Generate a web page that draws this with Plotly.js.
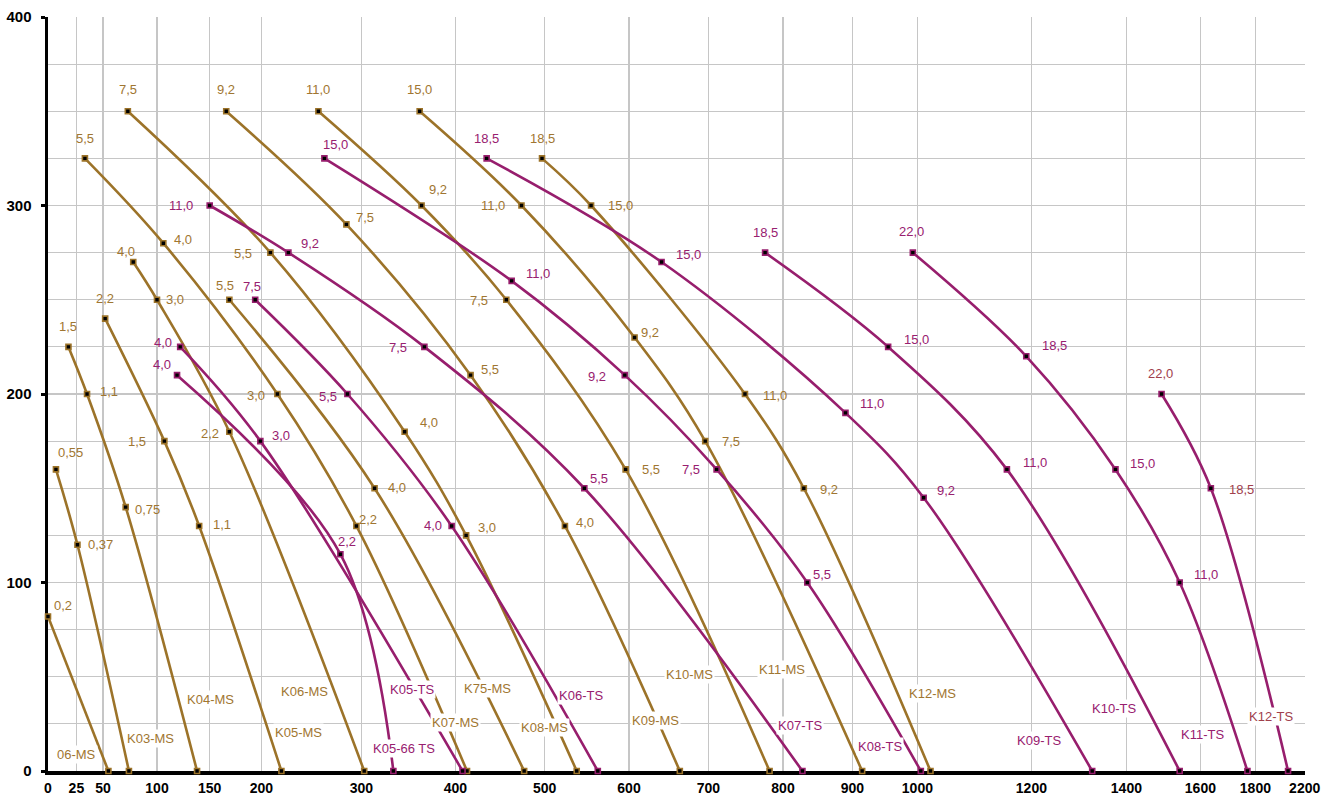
<!DOCTYPE html>
<html>
<head>
<meta charset="utf-8">
<script src="https://cdn.plot.ly/plotly-3.0.1.min.js"></script>
<style>
  html, body { margin: 0; padding: 0; background: #ffffff; }
  #chart { width: 1330px; height: 800px; }
</style>
</head>
<body>
<div id="chart"></div>
<script>
// ---- Flow axis (non-linear): tick values and their spacing along the axis ----
const TICK_Q   = [0, 25, 50, 100, 150, 200, 300, 400, 500, 600, 700, 800, 900, 1000, 1200, 1400, 1600, 1800, 2200];
const TICK_POS = [0, 28.4, 55, 109, 161.7, 213.4, 313.4, 407.4, 496.7, 581, 660.4, 735, 804.4, 869.4, 983.4, 1078.4, 1152.4, 1207.4, 1256.7];

// ---- Pump curves: flow Q, head H and motor power at each point (kW) ----
// MS series
const MS06_Q = [0, 55];                     const MS06_H = [82, 0];                     const MS06_KW = ['0,2', ''];
const K03MS_Q = [7, 26, 74];                const K03MS_H = [160, 120, 0];              const K03MS_KW = ['0,55', '0,37', ''];
const K04MS_Q = [18, 35, 71, 138];          const K04MS_H = [225, 200, 140, 0];         const K04MS_KW = ['1,5', '1,1', '0,75', ''];
const K05MS_Q = [52, 107, 140, 220];        const K05MS_H = [240, 175, 130, 0];         const K05MS_KW = ['2,2', '1,5', '1,1', ''];
const K06MS_Q = [78, 100, 169, 303];        const K06MS_H = [270, 250, 180, 0];         const K06MS_KW = ['4,0', '3,0', '2,2', ''];
const K07MS_Q = [33, 106, 216, 295, 413];   const K07MS_H = [325, 280, 200, 130, 0];    const K07MS_KW = ['5,5', '4,0', '3,0', '2,2', ''];
const K75MS_Q = [169, 314, 477];            const K75MS_H = [250, 150, 0];              const K75MS_KW = ['5,5', '4,0', ''];
const K08MS_Q = [73, 209, 346, 412, 538];   const K08MS_H = [350, 275, 180, 125, 0];    const K08MS_KW = ['7,5', '5,5', '4,0', '3,0', ''];
const K09MS_Q = [166, 285, 417, 524, 664];  const K09MS_H = [350, 290, 210, 130, 0];    const K09MS_KW = ['9,2', '7,5', '5,5', '4,0', ''];
const K10MS_Q = [257, 364, 457, 596, 782];  const K10MS_H = [350, 300, 250, 160, 0];    const K10MS_KW = ['11,0', '9,2', '7,5', '5,5', ''];
const K11MS_Q = [362, 474, 607, 696, 915];  const K11MS_H = [350, 300, 230, 175, 0];    const K11MS_KW = ['15,0', '11,0', '9,2', '7,5', ''];
const K12MS_Q = [497, 555, 749, 830, 1023]; const K12MS_H = [325, 300, 200, 150, 0];    const K12MS_KW = ['18,5', '15,0', '11,0', '9,2', ''];
// TS series
const K0566TS_Q = [119, 279, 334];               const K0566TS_H = [210, 115, 0];              const K0566TS_KW = ['4,0', '2,2', ''];
const K05TS_Q = [122, 199, 408];                 const K05TS_H = [225, 175, 0];                const K05TS_KW = ['4,0', '3,0', ''];
const K06TS_Q = [194, 286, 396, 563];            const K06TS_H = [250, 200, 130, 0];           const K06TS_KW = ['7,5', '5,5', '4,0', ''];
const K07TS_Q = [150, 227, 367, 547, 828];       const K07TS_H = [300, 275, 225, 150, 0];      const K07TS_KW = ['11,0', '9,2', '7,5', '5,5', ''];
const K08TS_Q = [263, 463, 595, 711, 835, 1006]; const K08TS_H = [325, 260, 210, 160, 100, 0]; const K08TS_KW = ['15,0', '11,0', '9,2', '7,5', '5,5', ''];
const K09TS_Q = [435, 641, 890, 1011, 1328];     const K09TS_H = [325, 270, 190, 145, 0];      const K09TS_KW = ['18,5', '15,0', '11,0', '9,2', ''];
const K10TS_Q = [776, 955, 1157, 1544];          const K10TS_H = [275, 225, 160, 0];           const K10TS_KW = ['18,5', '15,0', '11,0', ''];
const K11TS_Q = [993, 1191, 1377, 1544, 1771];   const K11TS_H = [275, 220, 160, 100, 0];      const K11TS_KW = ['22,0', '18,5', '15,0', '11,0', ''];
const K12TS_Q = [1495, 1638, 2065];              const K12TS_H = [200, 150, 0];                const K12TS_KW = ['22,0', '18,5', ''];

// ---- Styling ----
const GOLD = '#9c7329';
const GOLD_TEXT = '#9f7631';
const PURPLE = '#971e6d';
const PURPLE_TEXT = '#98206f';
const RUST_TEXT = '#a0404c';
const FONT = "Arial, 'Liberation Sans', sans-serif";

// power label offsets from their point, in pixels [dx, dy] (dy downward)
const OFF = {
  '06-MS':     [[15,-11], null],
  'K03-MS':    [[15,-17], [23,0], null],
  'K04-MS':    [[0,-20], [22,-3], [22,2], null],
  'K05-MS':    [[0,-20], [-27,0], [23,-1], null],
  'K06-MS':    [[-7,-11], [18,0], [-19,2], null],
  'K07-MS':    [[0,-20], [20,-4], [-21,1], [12,-6], null],
  'K75-MS':    [[-4,-14], [22,-1], null],
  'K08-MS':    [[0,-22], [-27,1], [24,-9], [21,-8], null],
  'K09-MS':    [[0,-22], [19,-7], [19,-6], [20,-3], null],
  'K10-MS':    [[0,-22], [16,-16], [-27,1], [25,0], null],
  'K11-MS':    [[0,-22], [-28,0], [15,-5], [26,0], null],
  'K12-MS':    [[0,-20], [29,0], [30,1], [25,1], null],
  'K05-66 TS': [[-15,-11], [7,-13], null],
  'K05-TS':    [[-17,-4], [21,-6], null],
  'K06-TS':    [[-3,-13], [-19,2], [-19,0], null],
  'K07-TS':    [[-29,0], [22,-9], [-26,1], [15,-10], null],
  'K08-TS':    [[11,-14], [26,-7], [-28,1], [-26,0], [15,-8], null],
  'K09-TS':    [[0,-20], [27,-8], [27,-9], [22,-7], null],
  'K10-TS':    [[0,-20], [28,-7], [28,-7], null],
  'K11-TS':    [[-1,-21], [28,-11], [27,-6], [26,-8], null],
  'K12-TS':    [[-1,-21], [31,1], null]
};

// placement of each curve's name tag, in flow / head units
const NAME_AT = {
  '06-MS': [25, 9], 'K03-MS': [94, 17], 'K04-MS': [151, 38], 'K05-MS': [237, 20.5],
  'K06-MS': [243, 42], 'K05-TS': [354, 43], 'K05-66 TS': [345, 12], 'K07-MS': [400, 25.5],
  'K75-MS': [436.5, 44], 'K08-MS': [500, 23], 'K06-TS': [543, 40], 'K09-MS': [633, 27],
  'K10-MS': [676, 51], 'K11-MS': [798, 54], 'K07-TS': [825, 24], 'K08-TS': [942, 13],
  'K12-MS': [1027, 41], 'K09-TS': [1215, 16], 'K10-TS': [1374, 33], 'K11-TS': [1606, 19.5],
  'K12-TS': [1924, 29]
};

const CURVES = [
  { name: '06-MS',  q: MS06_Q,  h: MS06_H,  kw: MS06_KW,  kind: 'MS' },
  { name: 'K03-MS', q: K03MS_Q, h: K03MS_H, kw: K03MS_KW, kind: 'MS' },
  { name: 'K04-MS', q: K04MS_Q, h: K04MS_H, kw: K04MS_KW, kind: 'MS' },
  { name: 'K05-MS', q: K05MS_Q, h: K05MS_H, kw: K05MS_KW, kind: 'MS' },
  { name: 'K06-MS', q: K06MS_Q, h: K06MS_H, kw: K06MS_KW, kind: 'MS' },
  { name: 'K07-MS', q: K07MS_Q, h: K07MS_H, kw: K07MS_KW, kind: 'MS' },
  { name: 'K75-MS', q: K75MS_Q, h: K75MS_H, kw: K75MS_KW, kind: 'MS' },
  { name: 'K08-MS', q: K08MS_Q, h: K08MS_H, kw: K08MS_KW, kind: 'MS' },
  { name: 'K09-MS', q: K09MS_Q, h: K09MS_H, kw: K09MS_KW, kind: 'MS' },
  { name: 'K10-MS', q: K10MS_Q, h: K10MS_H, kw: K10MS_KW, kind: 'MS' },
  { name: 'K11-MS', q: K11MS_Q, h: K11MS_H, kw: K11MS_KW, kind: 'MS' },
  { name: 'K12-MS', q: K12MS_Q, h: K12MS_H, kw: K12MS_KW, kind: 'MS' },
  { name: 'K05-66 TS', q: K0566TS_Q, h: K0566TS_H, kw: K0566TS_KW, kind: 'TS' },
  { name: 'K05-TS', q: K05TS_Q, h: K05TS_H, kw: K05TS_KW, kind: 'TS' },
  { name: 'K06-TS', q: K06TS_Q, h: K06TS_H, kw: K06TS_KW, kind: 'TS' },
  { name: 'K07-TS', q: K07TS_Q, h: K07TS_H, kw: K07TS_KW, kind: 'TS' },
  { name: 'K08-TS', q: K08TS_Q, h: K08TS_H, kw: K08TS_KW, kind: 'TS' },
  { name: 'K09-TS', q: K09TS_Q, h: K09TS_H, kw: K09TS_KW, kind: 'TS' },
  { name: 'K10-TS', q: K10TS_Q, h: K10TS_H, kw: K10TS_KW, kind: 'TS' },
  { name: 'K11-TS', q: K11TS_Q, h: K11TS_H, kw: K11TS_KW, kind: 'TS' },
  { name: 'K12-TS', q: K12TS_Q, h: K12TS_H, kw: K12TS_KW, kind: 'TS' }
];

// piecewise-linear flow scale between the axis ticks
function flowToAxis(q) {
  for (let i = 0; i < TICK_Q.length - 1; i++) {
    if (q <= TICK_Q[i + 1] || i === TICK_Q.length - 2) {
      const t = (q - TICK_Q[i]) / (TICK_Q[i + 1] - TICK_Q[i]);
      return TICK_POS[i] + t * (TICK_POS[i + 1] - TICK_POS[i]);
    }
  }
  return TICK_POS[TICK_POS.length - 1];
}

const traces = [];
const annotations = [];

CURVES.forEach(c => {
  const lineColor = c.kind === 'MS' ? GOLD : PURPLE;
  let textColor = c.kind === 'MS' ? GOLD_TEXT : PURPLE_TEXT;
  if (c.name === 'K12-TS') textColor = RUST_TEXT;

  traces.push({
    type: 'scatter',
    mode: 'lines+markers',
    x: c.q.map(flowToAxis),
    y: c.h,
    line: { color: lineColor, width: 2.6, shape: 'spline', smoothing: 1 },
    marker: { symbol: 'square', size: 5, color: '#000000', line: { color: lineColor, width: 1.6 } },
    cliponaxis: false,
    hoverinfo: 'skip',
    showlegend: false
  });

  c.kw.forEach((label, i) => {
    if (!label) return;
    const o = OFF[c.name][i] || [0, -20];
    annotations.push({
      x: flowToAxis(c.q[i]), y: c.h[i], xref: 'x', yref: 'y',
      text: label, showarrow: false,
      xanchor: 'center', yanchor: 'middle',
      xshift: o[0], yshift: -o[1],
      font: { family: FONT, size: 13, color: textColor }
    });
  });

  const at = NAME_AT[c.name];
  annotations.push({
    x: flowToAxis(at[0]), y: at[1], xref: 'x', yref: 'y',
    text: c.name, showarrow: false,
    xanchor: 'center', yanchor: 'middle',
    bgcolor: '#ffffff', borderpad: 1,
    font: { family: FONT, size: 13, color: textColor }
  });
});

// draw MS curves first so TS curves lie on top
traces.sort((a, b) => (a.line.color === GOLD ? 0 : 1) - (b.line.color === GOLD ? 0 : 1));

const GRID = '#c6c6c6';

const layout = {
  width: 1330,
  height: 800,
  margin: { l: 48, r: 25, t: 17, b: 29, pad: 0 },
  paper_bgcolor: '#ffffff',
  plot_bgcolor: '#ffffff',
  showlegend: false,
  font: { family: FONT },
  xaxis: {
    range: [0, 1257],
    tickmode: 'array',
    tickvals: TICK_POS,
    ticktext: TICK_Q.map(String),
    showgrid: true, gridcolor: GRID, gridwidth: 1.2,
    zeroline: false,
    showline: true, linecolor: '#000000', linewidth: 4,
    ticks: '',
    ticklabelstandoff: 1,
    tickfont: { family: FONT, size: 14, color: '#000000', weight: 'bold' },
    layer: 'below traces',
    fixedrange: true
  },
  yaxis: {
    range: [0, 400],
    tickmode: 'linear', tick0: 0, dtick: 100,
    showgrid: true, gridcolor: GRID, gridwidth: 1.2,
    minor: { dtick: 25, showgrid: true, gridcolor: GRID, gridwidth: 1.2, ticks: '' },
    zeroline: false,
    showline: true, linecolor: '#000000', linewidth: 3.5,
    ticks: 'outside', ticklen: 4, tickwidth: 3, tickcolor: '#000000',
    ticklabelstandoff: 6,
    tickfont: { family: FONT, size: 15, color: '#000000', weight: 'bold' },
    layer: 'below traces',
    fixedrange: true
  },
  annotations: annotations
};

Plotly.newPlot('chart', traces, layout, { displayModeBar: false, staticPlot: true });
</script>
</body>
</html>
